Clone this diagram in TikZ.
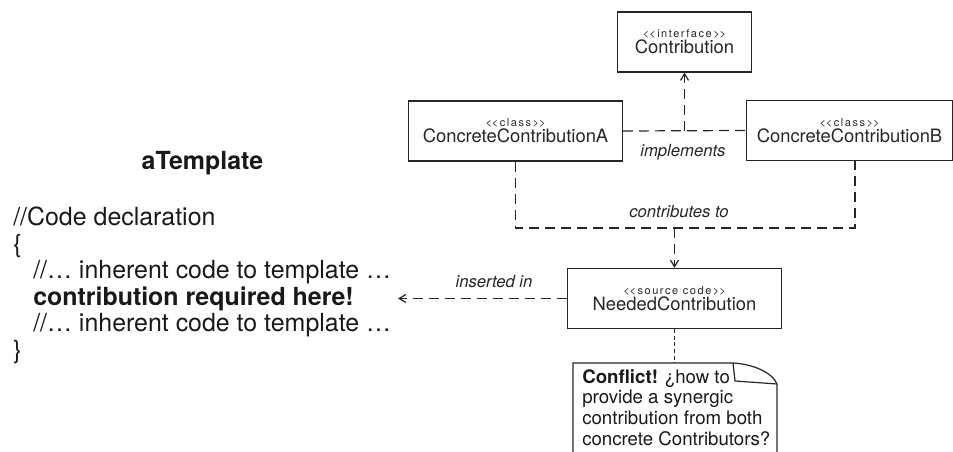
\documentclass[tikz,border=0pt]{standalone}
\usepackage{fontspec}
\setmainfont{TeX Gyre Heros}
\usetikzlibrary{
  arrows.meta,
  positioning,
  calc
}

% estereotipo UML: letra pequena e espacada, entre << >>
\newcommand{\stereo}[1]{{\fontsize{8.25pt}{9pt}\selectfont\addfontfeature{LetterSpace=14}%
  <\kern0pt<#1>\kern0pt>}}

\begin{document}
\begin{tikzpicture}[
    x=0.75pt,y=-0.75pt,
    classe/.style={
    draw=black!85,
    line width=0.9pt,
    minimum height=45pt,
    inner sep=0pt,
    align=center,
    text=black!85,
    font=\fontsize{13.8pt}{10pt}\selectfont
    },
    depend/.style={dash pattern=on 7.5pt off 4.5pt,line width=0.9pt,draw=black!85},
    ponta/.style={-{Straight Barb[length=5pt,width=6pt]}},
    rotulo/.style={text=black!85,font=\fontsize{12.5pt}{14pt}\selectfont\itshape},
    codigo/.style={anchor=base west,inner sep=0pt,text=black!90,font=\fontsize{18.7pt}{20pt}\selectfont}
    ]

    \useasboundingbox (0,0) rectangle (953,452);

    % classes
    \node[classe, minimum width=100.5pt] (contrib) at (684.5,42)
    {\stereo{interface}\\Contribution};

    \node[classe, minimum width=160pt] (ccA) at (515.5,131)
    {\stereo{class}\\ConcreteContributionA};

    \node[classe, minimum width=154pt] (ccB) at (849.5,130.5)
    {\stereo{class}\\ConcreteContributionB};

    \node[classe, minimum width=161pt] (needed) at (674.5,298.5)
    {\stereo{source code}\\NeededContribution};

    % implements
    \draw[depend] (ccA.east) -- (ccB.west) coordinate[pos=0.5] (impl);
    \draw[depend,ponta] (impl) -- (contrib.south);
    \node[rotulo] (implLbl) at (683,152) {implements};

    % contributes to
    \coordinate (contA) at (515.5,228);
    \coordinate (contB) at (855,228);
    \draw[depend] (ccA.south) -- (contA) -- (contB) -- (contB |- ccB.south);
    \draw[depend,ponta] (needed.north |- contA) -- (needed.north);
    \node[rotulo] (contLbl) at (679,212) {contributes to};

    % inserted in
    \coordinate (alvo) at (398,298.5);
    \draw[depend,ponta] (needed.west) -- (alvo);
    \node[rotulo] (insLbl) at (494,282) {inserted in};

    % nota
    \coordinate (notaTopo) at (674.5,363);
    \draw[dash pattern=on 3pt off 2pt,line width=0.9pt,draw=black!85] (needed.south) -- (notaTopo);
    \draw[line width=0.9pt,draw=black!85] (573,452) -- (573,363) -- (733,363)
      .. controls (752,364) and (772,372) .. (777,384) -- (777,452);
    \draw[line width=0.9pt,draw=black!85] (733,363) -- (735,381) -- (777,384);
    \node[anchor=north west, inner sep=0pt, align=left, text=black!90,
      font=\fontsize{14pt}{15.5pt}\selectfont] (nota) at (582,369)
    {\textbf{Conflict!} ¿how to\\provide a synergic\\contribution from both\\concrete Contributors?};

    % template
    \node[text=black!90,font=\fontsize{18.7pt}{20pt}\selectfont\bfseries] (titulo) at (202.5,163) {aTemplate};
    \node[codigo] (linha1) at (13,225.7) {//Code declaration};
    \node[codigo] (linha2) at (13,252.2) {\{};
    \node[codigo] (linha3) at (33,278.7) {//… inherent code to template …};
    \node[codigo,font=\fontsize{18.7pt}{20pt}\selectfont\bfseries] (linha4) at (33,305.2) {contribution required here!};
    \node[codigo] (linha5) at (33,331.7) {//… inherent code to template …};
    \node[codigo] (linha6) at (13,358.2) {\}};

\end{tikzpicture}
\end{document}
